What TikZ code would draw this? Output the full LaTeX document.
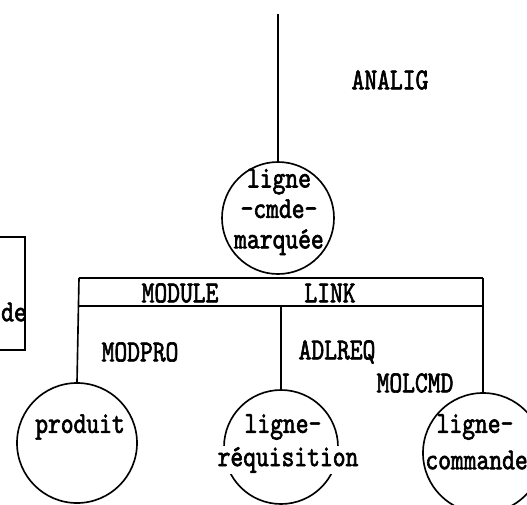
\documentclass[tikz,border=0pt]{standalone}
\usepackage{fontspec}
\newfontfamily\typer{lmmono10-regular.otf}[FakeStretch=0.8,FakeBold=2]
\tikzstyle{bubble} = [
    circle,
    draw=black,
    line width=1.4pt,
    inner sep=0pt
]
\tikzstyle{word} = [
    font=\typer\fontsize{26}{26}\selectfont,
    inner sep=1pt
]
\tikzstyle{gap} = [word, fill=white]
\tikzstyle{link} = [line width=1.4pt]

\begin{document}
\begin{tikzpicture}[x=0.03cm, y=-0.03cm]
\useasboundingbox (0,0) rectangle (527,505);
\clip (0,0) rectangle (527,505);

\node (marquee) [bubble, minimum size=3.36cm] at (278,218) {};
\node (produit) [bubble, minimum size=3.6cm] at (77,443) {};
\node (lreq) [bubble, minimum size=3.42cm] at (281,447) {};
\node (lcmd) [bubble, minimum size=3.6cm] at (483,453) {};

\node (cmdbox) [rectangle, draw=black, line width=1.4pt,
    minimum width=1.95cm, minimum height=3.39cm] at (-7.5,293.5) {};

\coordinate (top) at (278,14);
\coordinate (boxtl) at (79,278);
\coordinate (boxtr) at (483,278);
\coordinate (boxml) at (79,306);
\coordinate (boxmr) at (483,306);
\coordinate (boxmid) at (281,306);

\draw [link] (top) -- (marquee.north);
\draw [link] (boxtl) -- (boxtr);
\draw [link] (boxml) -- (boxmr);
\draw [link] (boxtl) -- (produit.north);
\draw [link] (boxtr) -- (lcmd.north);
\draw [link] (boxmid) -- (lreq.north);

\node (analig) [word] at (390,80) {ANALIG};
\node (module) [word] at (180,293) {MODULE};
\node (linkw) [word] at (330,293) {LINK};
\node (modpro) [word] at (140,352) {MODPRO};
\node (adlreq) [word] at (337,352) {ADLREQ};
\node (molcmd) [word] at (415,383) {MOLCMD};

\node (marqueetxt) [word, align=center] at (279,212)
{ligne\\-cmde-\\marquée};

\node (produittxt) [word] at (80,427) {produit};

\node (lreqtop) [word] at (283,427) {ligne-};
\node (lreqbot) [gap] at (288,460) {réquisition};

\node (lcmdtop) [word] at (475,427) {ligne-};
\node (lcmdbot) [word, anchor=west] at (424,460) {commande};

\node (cmdboxtxt) [word, anchor=east, inner sep=0pt] at (27,312) {de};

\end{tikzpicture}
\end{document}
